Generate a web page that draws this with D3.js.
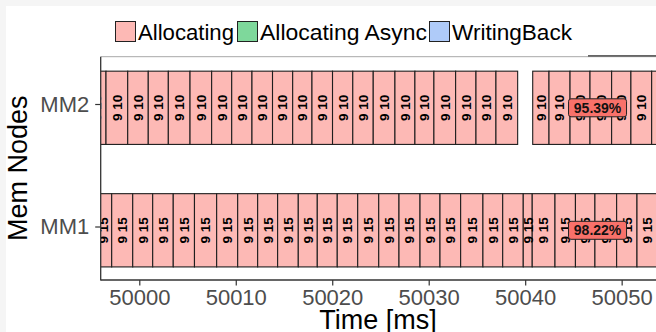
<!DOCTYPE html>
<html>
<head>
<meta charset="utf-8">
<script src="https://cdn.jsdelivr.net/npm/d3@7"></script>
<style>
  html, body { margin: 0; padding: 0; background: #fff; }
  svg { display: block; }
  text { font-family: "Liberation Sans", Arial, Helvetica, sans-serif; }
</style>
</head>
<body>
<svg id="chart" width="656" height="332"></svg>
<script>
// Memory-node activity timeline: one row of phase bars per node.
const nodes = ["MM2", "MM1"];
const nodeBarLabel = { MM2: "9 10", MM1: "9 15" };

const mm2Start = [49994.48, 49996.55, 49998.80, 50000.93, 50003.01, 50005.26, 50007.50,
  50009.58, 50011.68, 50013.81, 50015.90, 50017.90, 50020.03, 50022.13, 50024.25,
  50026.50, 50028.57, 50030.54, 50032.79, 50034.90, 50036.97, 50040.78, 50042.47,
  50044.65, 50046.72, 50048.96, 50050.96, 50053.11];
const mm2End = [49996.55, 49998.80, 50000.93, 50003.01, 50005.26, 50007.50, 50009.58,
  50011.68, 50013.81, 50015.90, 50017.90, 50020.03, 50022.13, 50024.25, 50026.50,
  50028.57, 50030.54, 50032.79, 50034.90, 50036.97, 50039.22, 50042.47, 50044.65,
  50046.72, 50048.96, 50050.96, 50053.11, 50055.20];

const mm1Start = [49995.44, 49997.14, 49999.32, 50001.39, 50003.52, 50005.72, 50008.02,
  50010.20, 50012.27, 50014.34, 50016.48, 50018.45, 50020.52, 50022.64, 50024.82,
  50026.92, 50029.10, 50031.17, 50033.31, 50035.62, 50037.67, 50039.80, 50040.73,
  50043.09, 50045.21, 50047.23, 50049.48, 50051.59];
const mm1End = [49997.14, 49999.32, 50001.39, 50003.52, 50005.72, 50008.02, 50010.20,
  50012.27, 50014.34, 50016.48, 50018.45, 50020.52, 50022.64, 50024.82, 50026.92,
  50029.10, 50031.17, 50033.31, 50035.62, 50037.67, 50039.80, 50040.73, 50043.09,
  50045.21, 50047.23, 50049.48, 50051.59, 50053.71];

// Busy-time share per node, shown as a tag on the row.
const utilNodes = ["MM2", "MM1"];
const utilValues = [95.39, 98.22];
const utilTime = [50047.5, 50047.5];

const xTicks = [50000, 50010, 50020, 50030, 50040, 50050];
const xDomain = [49996.0, 50053.56];

const legendNames = ["Allocating", "Allocating Async", "WritingBack"];
const legendColors = ["#FDB9B5", "#7ED89B", "#AFCBF9"];

// ---- layout ----
const W = 656, H = 332;
const panel = { left: 100.7, right: 656, top: 56.7, bottom: 280 };

const svg = d3.select("#chart");

// page backdrop with a faint outer frame
svg.append("rect").attr("width", W).attr("height", H).attr("fill", "#f5f5f5");
svg.append("rect").attr("x", 6).attr("y", 6).attr("width", W - 6).attr("height", H - 6).attr("fill", "#fff");

const x = d3.scaleLinear().domain(xDomain).range([panel.left, panel.right]);
const y = d3.scalePoint().domain(nodes).range([104, 226.5]);
const step = y(nodes[1]) - y(nodes[0]);
const barTop = -0.268, barBottom = 0.33;

const phaseColor = d3.scaleOrdinal().domain(legendNames).range(legendColors);

const bars = [];
[["MM2", mm2Start, mm2End], ["MM1", mm1Start, mm1End]].forEach(([node, s, e]) => {
  s.forEach((t, i) => bars.push({ node, start: t, end: e[i], phase: "Allocating", label: nodeBarLabel[node] }));
});

svg.append("clipPath").attr("id", "panelClip")
  .append("rect")
  .attr("x", panel.left).attr("y", panel.top)
  .attr("width", panel.right - panel.left).attr("height", panel.bottom - panel.top);

const plot = svg.append("g").attr("clip-path", "url(#panelClip)");

plot.selectAll("rect.bar").data(bars).join("rect")
  .attr("class", "bar")
  .attr("x", d => x(d.start))
  .attr("width", d => x(d.end) - x(d.start))
  .attr("y", d => y(d.node) + barTop * step)
  .attr("height", (barBottom - barTop) * step)
  .attr("fill", d => phaseColor(d.phase))
  .attr("stroke", "#1e1e1e")
  .attr("stroke-width", 1.1);

plot.selectAll("text.barlab").data(bars).join("text")
  .attr("class", "barlab")
  .attr("transform", d => `translate(${x((d.start + d.end) / 2)},${y(d.node) + (barTop + barBottom) / 2 * step}) rotate(-90)`)
  .attr("text-anchor", "middle")
  .attr("dy", "0.36em")
  .attr("font-size", 13.5)
  .attr("font-weight", "bold")
  .attr("fill", "#000")
  .text(d => d.label);

// utilisation tags
const utilData = utilNodes.map((n, i) => ({ node: n, value: utilValues[i], t: utilTime[i] }));
const tags = svg.append("g").selectAll("g").data(utilData).join("g")
  .attr("transform", d => `translate(${x(d.t)},${y(d.node) + (barTop + barBottom) / 2 * step})`);
tags.append("rect")
  .attr("x", -29).attr("y", -9).attr("width", 58).attr("height", 18)
  .attr("rx", 2.5)
  .attr("fill", "#F8716A").attr("stroke", "#222").attr("stroke-width", 1);
tags.append("text")
  .attr("text-anchor", "middle").attr("dy", "0.36em")
  .attr("font-size", 14).attr("font-weight", "bold").attr("fill", "#111")
  .text(d => d.value.toFixed(2) + "%");

// panel frame
svg.append("line").attr("x1", panel.left).attr("x2", panel.right)
  .attr("y1", panel.top).attr("y2", panel.top)
  .attr("stroke", "#a8a8a8").attr("stroke-width", 1);
svg.append("line").attr("x1", 588).attr("x2", W)
  .attr("y1", panel.top - 0.8).attr("y2", panel.top - 0.8)
  .attr("stroke", "#333").attr("stroke-width", 1.2);

// axes
const xAxis = svg.append("g").attr("transform", `translate(0,${panel.bottom})`)
  .call(d3.axisBottom(x).tickValues(xTicks).tickSize(5.5).tickPadding(4).tickFormat(d3.format("d")));
xAxis.select(".domain").remove();
xAxis.selectAll(".tick line").attr("stroke", "#333").attr("stroke-width", 1.2);
xAxis.selectAll(".tick text").attr("font-size", 22).attr("fill", "#4d4d4d")
  .attr("font-family", "Liberation Sans, Arial, sans-serif").attr("dy", "0.71em");

const yAxis = svg.append("g").attr("transform", `translate(${panel.left},0)`)
  .call(d3.axisLeft(y).tickSize(5.5).tickPadding(6));
yAxis.select(".domain").remove();
yAxis.selectAll(".tick line").attr("stroke", "#333").attr("stroke-width", 1.2);
yAxis.selectAll(".tick text").attr("font-size", 22).attr("fill", "#4d4d4d")
  .attr("font-family", "Liberation Sans, Arial, sans-serif");

svg.append("line").attr("x1", panel.left).attr("x2", panel.left)
  .attr("y1", panel.top).attr("y2", panel.bottom + 0.6)
  .attr("stroke", "#333").attr("stroke-width", 1.3);
svg.append("line").attr("x1", panel.left).attr("x2", panel.right)
  .attr("y1", panel.bottom).attr("y2", panel.bottom)
  .attr("stroke", "#333").attr("stroke-width", 1.3);

// axis titles
svg.append("text").attr("x", 378).attr("y", 329)
  .attr("text-anchor", "middle").attr("font-size", 27).attr("fill", "#000")
  .text("Time [ms]");
svg.append("text").attr("transform", `translate(26.5,${(panel.top + panel.bottom) / 2}) rotate(-90)`)
  .attr("text-anchor", "middle").attr("font-size", 27).attr("fill", "#000")
  .text("Mem Nodes");

// legend
const legendX = [115, 237, 429];
const legendTextW = [96, 167, 120];
const legend = svg.append("g").selectAll("g").data(legendNames).join("g")
  .attr("transform", (d, i) => `translate(${legendX[i]},21)`);
legend.append("rect")
  .attr("x", 0.5).attr("y", 0.5).attr("width", 20).attr("height", 20)
  .attr("fill", d => phaseColor(d)).attr("stroke", "#222").attr("stroke-width", 1);
legend.append("text")
  .attr("x", 23).attr("y", 18.5)
  .attr("font-size", 22).attr("fill", "#000")
  .attr("textLength", (d, i) => legendTextW[i]).attr("lengthAdjust", "spacingAndGlyphs")
  .text(d => d);
</script>
</body>
</html>
